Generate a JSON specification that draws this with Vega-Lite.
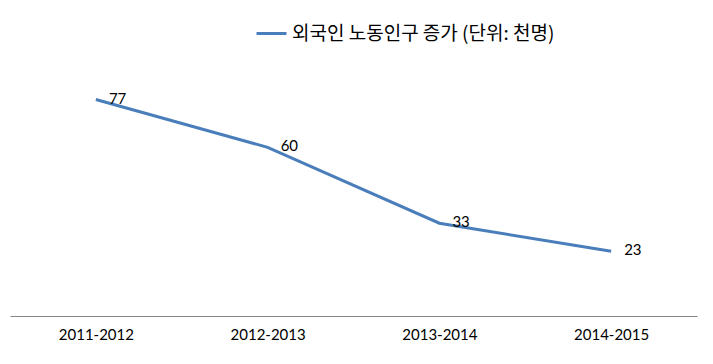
{
  "$schema": "https://vega.github.io/schema/vega-lite/v6.json",
  "width": 687,
  "height": 253,
  "autosize": {"type": "none"},
  "padding": {"left": 10, "top": 63, "right": 16, "bottom": 48},
  "background": "white",
  "config": {"view": {"stroke": null}, "font": "Lato"},
  "data": {"values": [
    {"period": "2011-2012", "value": 77, "series": "외국인 노동인구 증가 (단위: 천명)"},
    {"period": "2012-2013", "value": 60, "series": "외국인 노동인구 증가 (단위: 천명)"},
    {"period": "2013-2014", "value": 33, "series": "외국인 노동인구 증가 (단위: 천명)"},
    {"period": "2014-2015", "value": 23, "series": "외국인 노동인구 증가 (단위: 천명)"}
  ]},
  "encoding": {
    "x": {"field": "period", "type": "ordinal", "sort": null,
      "scale": {"paddingInner": 0, "paddingOuter": 0.5},
      "axis": {"title": null, "labelAngle": 0, "labelFontSize": 15, "labelColor": "#000", "labelPadding": 11,
        "ticks": false, "domainColor": "#868686", "domainWidth": 1.2, "grid": false, "labelFont": "Lato"}},
    "y": {"field": "value", "type": "quantitative", "scale": {"domain": [0, 90]}, "axis": null}
  },
  "layer": [
    {"mark": {"type": "line", "strokeWidth": 3},
     "encoding": {"color": {"field": "series", "type": "nominal", "scale": {"range": ["#4A7EBB"]},
       "legend": {"title": null, "orient": "none", "legendX": 245, "legendY": -46, "symbolType": "stroke", "symbolSize": 900, "symbolStrokeWidth": 3, "labelOffset": 4,
         "labelFont": "Noto Sans CJK KR", "labelFontSize": 19, "labelColor": "#000", "labelLimit": 400}}}},
    {"mark": {"type": "text", "align": "left", "baseline": "middle", "dx": 13, "dy": -1, "fontSize": 15, "color": "#000"},
     "encoding": {"text": {"field": "value", "type": "quantitative"}}}
  ]
}
